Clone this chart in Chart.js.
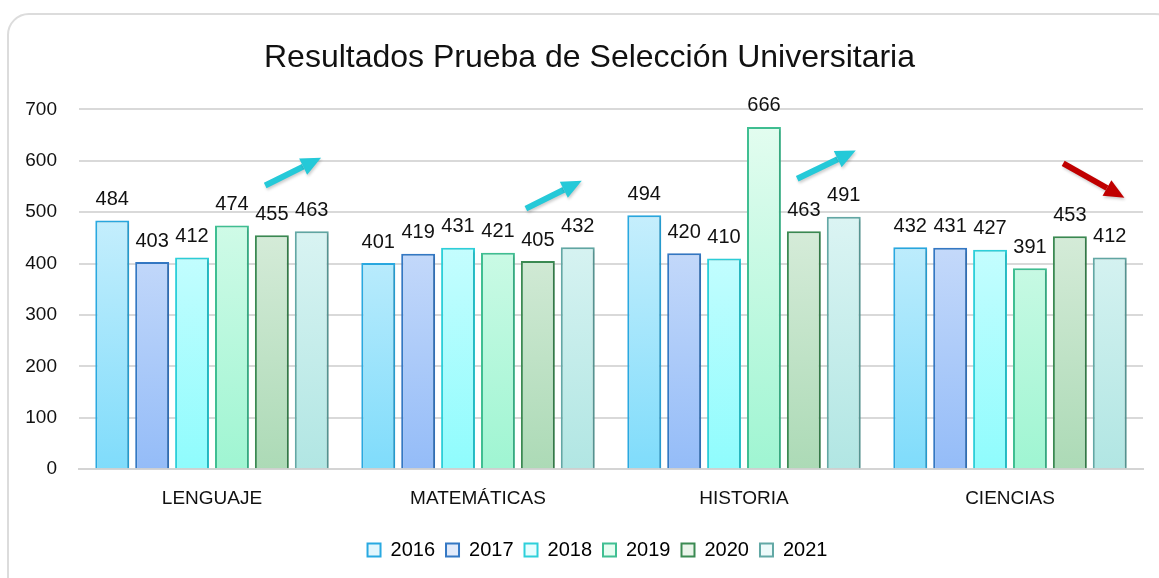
<!DOCTYPE html>
<html>
<head>
<meta charset="utf-8">
<script src="https://cdn.jsdelivr.net/npm/chart.js@4"></script>
<style>
  html, body { margin: 0; padding: 0; background: #fff; }
  #wrap { position: relative; width: 1159px; height: 578px; overflow: hidden; }
  #frame {
    position: absolute; left: 7px; top: 13px; width: 1170px; height: 590px;
    border: 2px solid #dcdcdc; border-radius: 22px; box-sizing: border-box;
  }
  #chart_canvas { position: absolute; left: 0; top: 0; }
</style>
</head>
<body>
<div id="wrap">
  <div id="frame"></div>
  <canvas id="chart_canvas" width="1159" height="578"></canvas>
</div>
<script>
const CATEGORIES = ['LENGUAJE', 'MATEMÁTICAS', 'HISTORIA', 'CIENCIAS'];
const YEARS = ['2016', '2017', '2018', '2019', '2020', '2021'];

const V2016 = [484, 401, 494, 432];
const V2017 = [403, 419, 420, 431];
const V2018 = [412, 431, 410, 427];
const V2019 = [474, 421, 666, 391];
const V2020 = [455, 405, 463, 453];
const V2021 = [463, 432, 491, 412];

const Y_TICKS = [0, 100, 200, 300, 400, 500, 600, 700];

// trend arrows per subject: [category index + offset, value] start -> end
const ARROWS = [
    { from: [0.20, 552], to: [0.41, 606], color: '#25c9d8' },
    { from: [1.18, 507], to: [1.39, 561], color: '#25c9d8' },
    { from: [2.20, 565], to: [2.42, 620], color: '#25c9d8' },
    { from: [3.20, 595], to: [3.43, 528], color: '#c00000' },
];

const FONT = '"Liberation Sans", Arial, sans-serif';
const CHART_CANVAS = document.getElementById('chart_canvas');

// border, gradient top, gradient bottom
const STYLES = [
    ['#29a9e1', '#e3f6fd', '#7fdcfb'],
    ['#3478c4', '#e2ebfb', '#94bcf8'],
    ['#2dd0da', '#e6feff', '#8ffcfd'],
    ['#3fbf92', '#e6fdf1', '#9ff5d2'],
    ['#3b8a52', '#eaf4ea', '#acdab6'],
    ['#62a8a5', '#edfafa', '#b1e6e3'],
];

const gradCache = {};
const barFill = (i) => (ctx) => {
    const area = ctx.chart.chartArea;
    if (!area) return STYLES[i][2];
    const key = i + ':' + area.top + ':' + area.bottom;
    if (!gradCache[key]) {
        const g = ctx.chart.ctx.createLinearGradient(0, area.top, 0, area.bottom);
        g.addColorStop(0, STYLES[i][1]);
        g.addColorStop(1, STYLES[i][2]);
        gradCache[key] = g;
    }
    return gradCache[key];
};

const series = [V2016, V2017, V2018, V2019, V2020, V2021];
const datasets = series.map((vals, i) => ({
    label: YEARS[i],
    data: vals,
    backgroundColor: barFill(i),
    borderColor: STYLES[i][0],
    borderWidth: 2,
    borderSkipped: 'bottom',
    barPercentage: 0.85,
    categoryPercentage: 0.9,
}));

// soft drop shadow behind the bars
const barShadow = {
    id: 'barShadow',
    beforeDatasetsDraw(chart) {
        const c = chart.ctx;
        c.save();
        c.shadowColor = 'rgba(0,0,0,0.18)';
        c.shadowBlur = 3;
        c.shadowOffsetX = 2;
        c.shadowOffsetY = 1;
    },
    afterDatasetsDraw(chart) {
        chart.ctx.restore();
    }
};

// title and legend sit a little right of the plot centre
const nudgeBlocks = {
    id: 'nudgeBlocks',
    afterLayout(chart) {
        chart.titleBlock.left += 18;
        chart.titleBlock.right += 18;
        chart.legend.left += 26;
        chart.legend.right += 26;
    }
};

// value labels above each bar
const valueLabels = {
    id: 'valueLabels',
    afterDatasetsDraw(chart) {
        const c = chart.ctx;
        c.save();
        c.font = '20px ' + FONT;
        c.fillStyle = '#111';
        c.textAlign = 'center';
        c.textBaseline = 'bottom';
        chart.data.datasets.forEach((ds, di) => {
            const meta = chart.getDatasetMeta(di);
            meta.data.forEach((bar, j) => {
                c.fillText(String(ds.data[j]), bar.x, bar.y - 11);
            });
        });
        c.restore();
    }
};

// trend arrows, placed through the scales
const trendArrows = {
    id: 'trendArrows',
    afterDraw(chart) {
        const xs = chart.scales.x, ys = chart.scales.y;
        const c = chart.ctx;
        ARROWS.forEach(a => {
            const x1 = xs.getPixelForValue(a.from[0]), y1 = ys.getPixelForValue(a.from[1]);
            const x2 = xs.getPixelForValue(a.to[0]), y2 = ys.getPixelForValue(a.to[1]);
            const ang = Math.atan2(y2 - y1, x2 - x1);
            const head = 20, half = 9;
            const bx = x2 - head * Math.cos(ang), by = y2 - head * Math.sin(ang);
            c.save();
            c.shadowColor = 'rgba(0,0,0,0.2)';
            c.shadowBlur = 3;
            c.shadowOffsetX = 1;
            c.shadowOffsetY = 2;
            c.strokeStyle = a.color;
            c.fillStyle = a.color;
            c.lineWidth = 6;
            c.beginPath();
            c.moveTo(x1, y1);
            c.lineTo(bx, by);
            c.stroke();
            c.beginPath();
            c.moveTo(x2, y2);
            c.lineTo(bx + half * Math.sin(ang), by - half * Math.cos(ang));
            c.lineTo(bx - half * Math.sin(ang), by + half * Math.cos(ang));
            c.closePath();
            c.fill();
            c.restore();
        });
    }
};

const config = {
    type: 'bar',
    data: { labels: CATEGORIES, datasets: datasets },
    options: {
        responsive: false,
        animation: false,
        devicePixelRatio: 1,
        layout: { padding: { left: 0, right: 16, top: 0, bottom: 8 } },
        scales: {
            x: {
                afterFit(scale) { scale.height += 9; },
                grid: { display: false },
                border: { display: true, color: '#d4d4d4', width: 2 },
                ticks: { color: '#111', font: { family: FONT, size: 19 }, padding: 10 },
            },
            y: {
                min: 0,
                max: 700,
                afterBuildTicks(scale) { scale.ticks = Y_TICKS.map(v => ({ value: v })); },
                afterFit(scale) { scale.width = 79; },
                grid: { color: '#d9d9d9', lineWidth: 2, drawTicks: false },
                border: { display: false },
                ticks: { color: '#111', font: { family: FONT, size: 19 }, padding: 22 },
            }
        },
        plugins: {
            title: {
                display: true,
                text: 'Resultados Prueba de Selección Universitaria',
                color: '#111',
                font: { family: FONT, size: 32, weight: 'normal' },
                padding: { top: 39, bottom: 32 },
            },
            legend: {
                position: 'bottom',
                labels: {
                    color: '#111',
                    font: { family: FONT, size: 20 },
                    boxWidth: 13,
                    boxHeight: 13,
                    padding: 11,
                    generateLabels(chart) {
                        return chart.data.datasets.map((ds, i) => ({
                            text: ds.label,
                            fillStyle: STYLES[i][1],
                            strokeStyle: STYLES[i][0],
                            lineWidth: 2,
                            datasetIndex: i,
                            hidden: false,
                        }));
                    }
                }
            },
            tooltip: { enabled: false },
        }
    },
    plugins: [barShadow, nudgeBlocks, valueLabels, trendArrows]
};

const myChart = new Chart(CHART_CANVAS, config);
</script>
</body>
</html>
